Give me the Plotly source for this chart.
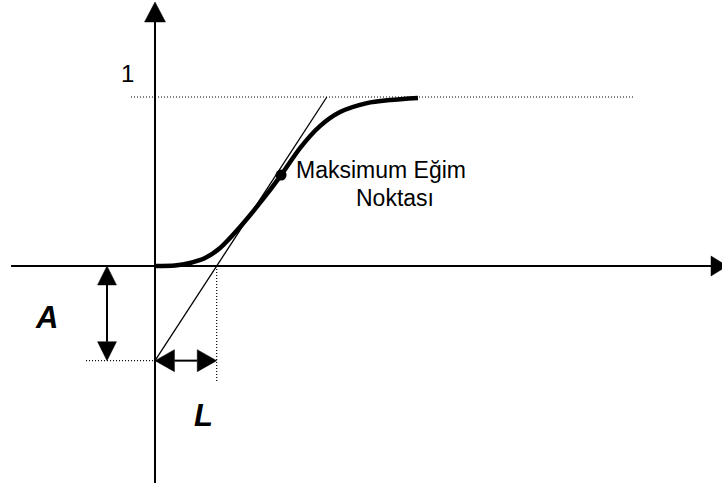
import plotly.graph_objects as go

# Step response (normalised so the final value is 1)
curve_x = [0.0, 0.118, 0.207, 0.296, 0.385, 0.503, 0.621, 0.746, 0.858,
           0.976, 1.095, 1.254, 1.391, 1.556]
curve_y = [0.0, 0.003, 0.018, 0.047, 0.107, 0.231, 0.373, 0.538, 0.698,
           0.828, 0.911, 0.964, 0.982, 0.994]

final_value = 1.0          # steady-state level
A = 0.56                   # tangent intercept below the time axis
L = 0.365                  # dead time (tangent crossing of the time axis)
max_slope_pt = (0.746, 0.538)

point_label = ["Maksimum Eğim", "Noktası"]
axis_labels = {"final": "1", "A": "A", "L": "L"}

FONT = "Liberation Sans, Arial, sans-serif"
BLACK = "#000000"
DOTS = "1px,2px"

fig = go.Figure()

# Tangent line through (0, -A) and (L, 0), extended up to the final value
slope = A / L
tan_x_end = (final_value + A) / slope
fig.add_trace(go.Scatter(
    x=[0.0, tan_x_end], y=[-A, final_value], mode="lines",
    line=dict(color=BLACK, width=1.3), hoverinfo="skip", showlegend=False))

# S-shaped response curve
fig.add_trace(go.Scatter(
    x=curve_x, y=curve_y, mode="lines",
    line=dict(color=BLACK, width=4.5, shape="spline", smoothing=0.8),
    hoverinfo="skip", showlegend=False))

# Inflection (maximum slope) point
fig.add_trace(go.Scatter(
    x=[max_slope_pt[0]], y=[max_slope_pt[1]], mode="markers",
    marker=dict(color=BLACK, size=11), hoverinfo="skip", showlegend=False))

shapes = []

def seg(x0, y0, x1, y1, width=2, dash="solid"):
    shapes.append(dict(type="line", xref="x", yref="y", x0=x0, y0=y0, x1=x1, y1=y1,
                       line=dict(color=BLACK, width=width, dash=dash)))

def tri(p1, p2, p3):
    path = "M {} {} L {} {} L {} {} Z".format(*p1, *p2, *p3)
    shapes.append(dict(type="path", xref="x", yref="y", path=path,
                       fillcolor=BLACK, line=dict(color=BLACK, width=0.5)))

# Coordinate axes with arrowheads
seg(-0.852, 0.0, 3.29, 0.0)
tri((3.29, 0.059), (3.29, -0.059), (3.385, 0.0))
seg(0.0, -1.29, 0.0, 1.444)
tri((-0.062, 1.444), (0.062, 1.444), (0.0, 1.562))

# Dotted guides
seg(-0.142, final_value, 2.84, final_value, width=1.2, dash=DOTS)
seg(-0.408, -A, 0.0, -A, width=1.2, dash=DOTS)
seg(L, 0.0, L, -0.686, width=1.2, dash=DOTS)

# Double arrow for A
ax_x = -0.284
hl, hw = 0.112, 0.056
seg(ax_x, -hl, ax_x, -A + hl)
tri((ax_x - hw, -hl), (ax_x + hw, -hl), (ax_x, 0.0))
tri((ax_x - hw, -A + hl), (ax_x + hw, -A + hl), (ax_x, -A))

# Double arrow for L
hl2, hw2 = 0.115, 0.065
seg(hl2, -A, L - hl2, -A)
tri((hl2, -A + hw2), (hl2, -A - hw2), (0.0, -A))
tri((L - hl2, -A + hw2), (L - hl2, -A - hw2), (L, -A))

annotations = [
    dict(x=-0.160, y=1.139, text=axis_labels["final"],
         font=dict(family=FONT, size=24, color=BLACK)),
    dict(x=-0.645, y=-0.302, text="<b><i>" + axis_labels["A"] + "</i></b>",
         font=dict(family=FONT, size=31, color=BLACK)),
    dict(x=0.285, y=-0.882, text="<b><i>" + axis_labels["L"] + "</i></b>",
         font=dict(family=FONT, size=31, color=BLACK)),
    dict(x=1.337, y=0.568, text=point_label[0],
         font=dict(family=FONT, size=23, color=BLACK)),
    dict(x=1.420, y=0.405, text=point_label[1],
         font=dict(family=FONT, size=23, color=BLACK)),
]
for a in annotations:
    a.update(xref="x", yref="y", showarrow=False, xanchor="center", yanchor="middle")

fig.update_layout(
    width=722, height=483,
    margin=dict(l=0, r=0, t=0, b=0),
    paper_bgcolor="white", plot_bgcolor="white",
    xaxis=dict(range=[-0.9172, 3.3550], visible=False, fixedrange=True),
    yaxis=dict(range=[-1.2840, 1.5740], visible=False, fixedrange=True),
    shapes=shapes, annotations=annotations,
    showlegend=False,
)

fig.write_html("out.html")
